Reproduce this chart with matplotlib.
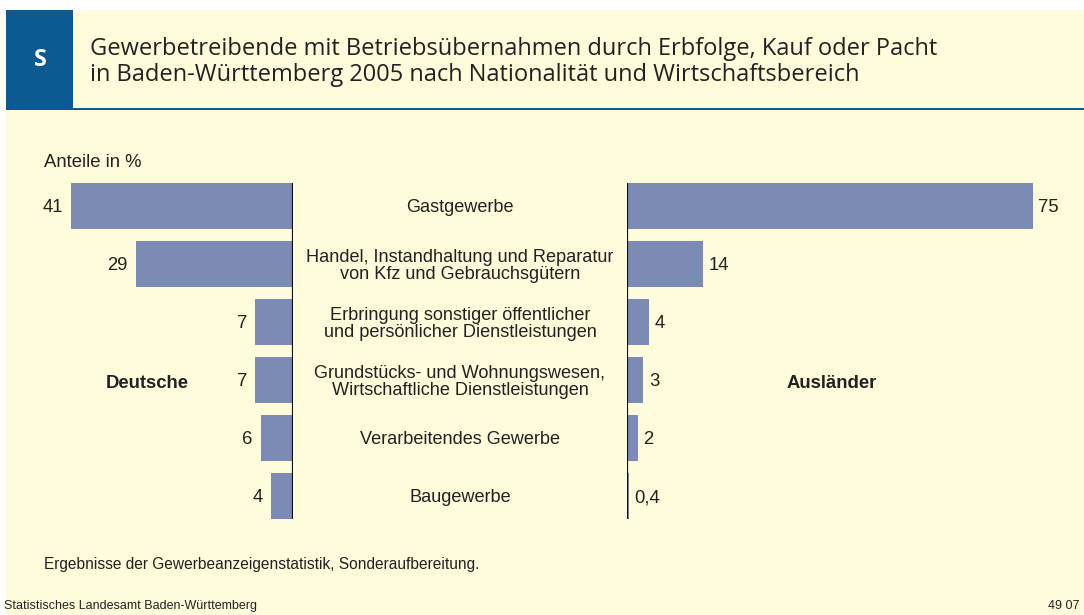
import matplotlib
matplotlib.use("Agg")
import matplotlib.pyplot as plt
from matplotlib.patches import Rectangle

categories = [
    "Gastgewerbe",
    "Handel, Instandhaltung und Reparatur\nvon Kfz und Gebrauchsgütern",
    "Erbringung sonstiger öffentlicher\nund persönlicher Dienstleistungen",
    "Grundstücks- und Wohnungswesen,\nWirtschaftliche Dienstleistungen",
    "Verarbeitendes Gewerbe",
    "Baugewerbe",
]
deutsche = [41, 29, 7, 7, 6, 4]
auslaender = [75, 14, 4, 3, 2, 0.4]
deutsche_labels = ["41", "29", "7", "7", "6", "4"]
auslaender_labels = ["75", "14", "4", "3", "2", "0,4"]

W, H = 1084, 615
BG = "#FEFCDB"
BAR = "#7B8BB5"
BLUE = "#0B5A92"
TXT = "#222222"
FONT = "Liberation Sans"
FS = 13.3

fig = plt.figure(figsize=(W / 100, H / 100), dpi=100)
fig.patch.set_facecolor("white")

def px(x, y, w, h):
    return [x / W, 1 - (y + h) / H, w / W, h / H]

# background panel
fig.patches.append(Rectangle((6 / W, 0), 1 - 6 / W, 1 - 10 / H, transform=fig.transFigure,
                             facecolor=BG, edgecolor="none", zorder=-3))
# blue S box
fig.patches.append(Rectangle((6 / W, 1 - 108 / H), 67 / W, 98 / H, transform=fig.transFigure,
                             facecolor=BLUE, edgecolor="none", zorder=-2))
# blue line under header
fig.patches.append(Rectangle((6 / W, 1 - 110 / H), 1 - 6 / W, 2.5 / H, transform=fig.transFigure,
                             facecolor=BLUE, edgecolor="none", zorder=-2))

fig.text(40 / W, 1 - 60 / H, "S", color="white", fontsize=17, fontweight="bold",
         family="Open Sans", ha="center", va="center")
fig.text(90 / W, 1 - 62 / H,
         "Gewerbetreibende mit Betriebsübernahmen durch Erbfolge, Kauf oder Pacht\n"
         "in Baden-Württemberg 2005 nach Nationalität und Wirtschaftsbereich",
         color=TXT, fontsize=17, family="Open Sans", ha="left", va="center", linespacing=1.06)

fig.text(44 / W, 1 - 160 / H, "Anteile in %", color=TXT, fontsize=FS, family=FONT,
         ha="left", va="center_baseline")

scale = 5.41  # px per unit
top, rowh = 177, 58
n = len(categories)
axh = rowh * n

# left axes (Deutsche)
lx1 = 293
lwidth = 260
axL = fig.add_axes(px(lx1 - lwidth, top, lwidth, axh))
axL.set_xlim(lwidth / scale, 0)
axL.set_ylim(n - 0.5, -0.5)
axL.barh(range(n), deutsche, height=0.78, color=BAR, edgecolor="none")
for i, (v, lab) in enumerate(zip(deutsche, deutsche_labels)):
    axL.annotate(lab, (v, i), xytext=(-6, 0), textcoords="offset points", ha="right",
                 va="center_baseline", fontsize=FS, family=FONT, color=TXT)
axL.vlines(0, -0.39, n - 1 + 0.39, color="#111111", lw=1.6)
axL.axis("off")

# right axes (Ausländer)
rx0 = 627
rwidth = 440
axR = fig.add_axes(px(rx0, top, rwidth, axh))
axR.set_xlim(0, rwidth / scale)
axR.set_ylim(n - 0.5, -0.5)
axR.barh(range(n), auslaender, height=0.78, color=BAR, edgecolor="none")
for i, (v, lab) in enumerate(zip(auslaender, auslaender_labels)):
    axR.annotate(lab, (v, i), xytext=(4, 0), textcoords="offset points", ha="left",
                 va="center_baseline", fontsize=FS, family=FONT, color=TXT)
axR.vlines(0, -0.39, n - 1 + 0.39, color="#111111", lw=1.6)
axR.axis("off")

# category labels
axC = fig.add_axes(px(lx1, top, rx0 - lx1, axh))
axC.set_xlim(0, 1)
axC.set_ylim(n - 0.5, -0.5)
for i, c in enumerate(categories):
    axC.text(0.5, i, c, ha="center", va="center_baseline", fontsize=13.1, family=FONT,
             color=TXT, linespacing=1.0)
axC.axis("off")

fig.text(147 / W, 1 - 381 / H, "Deutsche", fontsize=FS, fontweight="bold", family=FONT,
         color=TXT, ha="center", va="center_baseline")
fig.text(832 / W, 1 - 381 / H, "Ausländer", fontsize=FS, fontweight="bold", family=FONT,
         color=TXT, ha="center", va="center_baseline")

fig.text(44 / W, 1 - 563 / H, "Ergebnisse der Gewerbeanzeigenstatistik, Sonderaufbereitung.",
         fontsize=11.2, family=FONT, color=TXT, ha="left", va="center_baseline")
fig.text(4 / W, 1 - 606 / H, "Statistisches Landesamt Baden-Württemberg", fontsize=9,
         family=FONT, color=TXT, ha="left", va="center")
fig.text(1080 / W, 1 - 606 / H, "49 07", fontsize=9, family=FONT, color=TXT,
         ha="right", va="center")

fig.savefig("out.png", dpi=100, facecolor=fig.get_facecolor())
